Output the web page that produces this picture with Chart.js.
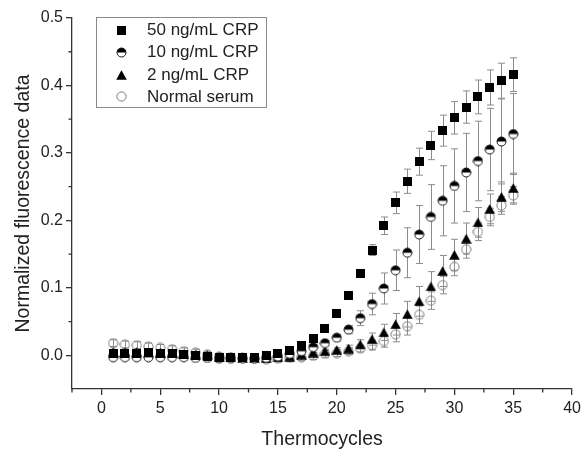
<!DOCTYPE html>
<html>
<head>
<meta charset="utf-8">
<script src="https://cdn.jsdelivr.net/npm/chart.js@4.4.1/dist/chart.umd.min.js"></script>
<style>
  html, body { margin: 0; padding: 0; background: #fff; }
  #wrap { width: 585px; height: 449px; position: relative; }
</style>
</head>
<body>
<div id="wrap"><canvas id="c" width="585" height="449"></canvas></div>
<script>
// ---------- data ----------
const cycles = [1,2,3,4,5,6,7,8,9,10,11,12,13,14,15,16,17,18,19,20,21,22,23,24,25,26,27,28,29,30,31,32,33,34,35];

const seriesLabels = ['50 ng/mL CRP', '10 ng/mL CRP', '2 ng/mL CRP', 'Normal serum'];

const crp50 = [0.003,0.003,0.003,0.004,0.003,0.002,0.001,0.000,-0.002,-0.003,-0.004,-0.004,-0.003,-0.001,0.003,0.007,0.014,0.025,0.040,0.062,0.089,0.121,0.156,0.192,0.226,0.258,0.287,0.311,0.333,0.352,0.368,0.383,0.397,0.407,0.416];
const crp50Err = [0.004,0.004,0.004,0.003,0.003,0.003,0.003,0.003,0.003,0.003,0.003,0.003,0.003,0.003,0.003,0.003,0.003,0.003,0.003,0.004,0.004,0.005,0.008,0.013,0.016,0.018,0.020,0.021,0.023,0.024,0.024,0.025,0.026,0.026,0.025];

const crp10 = [-0.003,-0.003,-0.003,-0.003,-0.003,-0.003,-0.003,-0.004,-0.004,-0.005,-0.005,-0.005,-0.005,-0.004,-0.002,0.002,0.006,0.012,0.018,0.026,0.038,0.055,0.076,0.099,0.126,0.152,0.179,0.205,0.229,0.251,0.271,0.288,0.305,0.317,0.328];
const crp10Err = [0.004,0.004,0.004,0.004,0.004,0.004,0.004,0.004,0.004,0.004,0.004,0.004,0.004,0.004,0.004,0.004,0.004,0.004,0.004,0.005,0.006,0.011,0.016,0.023,0.030,0.037,0.043,0.048,0.052,0.055,0.058,0.059,0.061,0.063,0.060];

const crp2 = [0.005,0.005,0.005,0.004,0.004,0.003,0.002,0.001,0.000,-0.002,-0.003,-0.004,-0.004,-0.004,-0.003,-0.002,0.001,0.004,0.006,0.008,0.010,0.016,0.024,0.034,0.046,0.061,0.080,0.102,0.125,0.149,0.173,0.197,0.217,0.235,0.248];
const crp2Err = [0.003,0.003,0.003,0.003,0.003,0.003,0.003,0.003,0.003,0.003,0.003,0.003,0.003,0.003,0.003,0.003,0.003,0.003,0.003,0.003,0.005,0.007,0.009,0.012,0.016,0.019,0.022,0.022,0.023,0.023,0.023,0.022,0.022,0.022,0.022];

const normalSerum = [0.018,0.016,0.015,0.013,0.011,0.009,0.006,0.004,0.001,-0.002,-0.003,-0.004,-0.005,-0.006,-0.005,-0.004,-0.003,-0.001,0.002,0.003,0.006,0.010,0.015,0.021,0.031,0.043,0.060,0.081,0.104,0.131,0.157,0.183,0.205,0.222,0.237];
const normalSerumErr = [0.005,0.005,0.005,0.005,0.005,0.005,0.005,0.005,0.005,0.005,0.005,0.005,0.005,0.005,0.005,0.005,0.005,0.005,0.005,0.005,0.005,0.005,0.007,0.009,0.011,0.013,0.013,0.013,0.013,0.013,0.013,0.013,0.013,0.013,0.013];

const xTicks = [0,5,10,15,20,25,30,35,40];
const xMinorTicks = [-2.5,2.5,7.5,12.5,17.5,22.5,27.5,32.5,37.5];
const yTicks = [0.0,0.1,0.2,0.3,0.4,0.5];
const yMinorTicks = [0.05,0.15,0.25,0.35,0.45];

// ---------- marker images ----------
function mk(w, h, draw) {
  const c = document.createElement('canvas');
  c.width = w; c.height = h;
  draw(c.getContext('2d'), w, h);
  return c;
}
const squareImg = mk(9, 9, (g) => { g.fillStyle = '#000'; g.fillRect(0, 0, 9, 9); });
const triImg = mk(11, 10, (g) => {
  g.fillStyle = '#000'; g.beginPath(); g.moveTo(5.5, 0.3); g.lineTo(10.8, 9.7); g.lineTo(0.2, 9.7); g.closePath(); g.fill();
});
const halfImg = mk(11, 11, (g) => {
  g.beginPath(); g.arc(5.5, 5.5, 4.5, 0, Math.PI * 2); g.fillStyle = '#fff'; g.fill();
  g.beginPath(); g.arc(5.5, 5.5, 4.5, Math.PI, Math.PI * 2); g.closePath(); g.fillStyle = '#000'; g.fill();
  g.beginPath(); g.arc(5.5, 5.5, 4.5, 0, Math.PI * 2); g.lineWidth = 1; g.strokeStyle = '#111'; g.stroke();
});
const openImg = mk(11, 11, (g) => {
  g.beginPath(); g.arc(5.5, 5.5, 4.6, 0, Math.PI * 2); g.lineWidth = 1; g.strokeStyle = '#7a7a7a'; g.stroke();
});

function pts(ys) { return cycles.map((c, i) => ({ x: c, y: ys[i] })); }

const datasets = [
  { label: seriesLabels[0], data: pts(crp50), errs: crp50Err, pointStyle: squareImg },
  { label: seriesLabels[1], data: pts(crp10), errs: crp10Err, pointStyle: halfImg },
  { label: seriesLabels[2], data: pts(crp2), errs: crp2Err, pointStyle: triImg },
  { label: seriesLabels[3], data: pts(normalSerum), errs: normalSerumErr, pointStyle: openImg }
].map(d => Object.assign(d, { showLine: false, pointRadius: 5, pointHoverRadius: 5 }));

// ---------- plugins ----------
const errorBars = {
  id: 'errorBars',
  beforeDatasetsDraw(chart) {
    const { ctx, scales: { x, y } } = chart;
    ctx.save();
    ctx.strokeStyle = '#8c8c8c';
    ctx.lineWidth = 1;
    for (let di = chart.data.datasets.length - 1; di >= 0; di--) {
      const ds = chart.data.datasets[di];
      ds.data.forEach((p, i) => {
        const e = ds.errs[i];
        const px = Math.round(x.getPixelForValue(p.x)) + 0.5;
        const yt = y.getPixelForValue(p.y + e);
        const yb = y.getPixelForValue(p.y - e);
        ctx.beginPath();
        ctx.moveTo(px, yt); ctx.lineTo(px, yb);
        ctx.moveTo(px - 3.5, yt); ctx.lineTo(px + 3.5, yt);
        ctx.moveTo(px - 3.5, yb); ctx.lineTo(px + 3.5, yb);
        ctx.stroke();
      });
    }
    ctx.restore();
  }
};

const minorTicks = {
  id: 'minorTicks',
  afterDraw(chart) {
    const { ctx, scales: { x, y }, chartArea } = chart;
    ctx.save();
    ctx.strokeStyle = '#333';
    ctx.lineWidth = 1.3;
    ctx.beginPath();
    xMinorTicks.forEach(v => {
      const px = x.getPixelForValue(v);
      ctx.moveTo(px, chartArea.bottom); ctx.lineTo(px, chartArea.bottom + 3.5);
    });
    yMinorTicks.forEach(v => {
      const py = y.getPixelForValue(v);
      ctx.moveTo(chartArea.left, py); ctx.lineTo(chartArea.left - 3.5, py);
    });
    ctx.stroke();
    ctx.restore();
  }
};

const boxLegend = {
  id: 'boxLegend',
  afterDraw(chart) {
    const ctx = chart.ctx;
    ctx.save();
    ctx.fillStyle = '#fff';
    ctx.fillRect(96, 17, 170, 91);
    ctx.strokeStyle = '#8a8a8a';
    ctx.lineWidth = 1;
    ctx.strokeRect(96.5, 17.5, 170, 90);
    ctx.font = "17px 'Liberation Sans', Arial, sans-serif";
    ctx.fillStyle = '#222';
    ctx.textBaseline = 'middle';
    chart.data.datasets.forEach((ds, i) => {
      const cy = 30 + i * 22.3;
      const img = ds.pointStyle;
      ctx.drawImage(img, Math.round(121 - img.width / 2), Math.round(cy - img.height / 2));
      ctx.fillText(ds.label, 147, cy + 0.5);
    });
    ctx.restore();
  }
};

// ---------- chart ----------
Chart.defaults.font.family = "'Liberation Sans', Arial, sans-serif";
Chart.defaults.color = '#222';

new Chart(document.getElementById('c'), {
  type: 'scatter',
  data: { datasets },
  plugins: [errorBars, minorTicks, boxLegend],
  options: {
    responsive: false,
    animation: false,
    events: [],
    layout: { padding: { top: 18, right: 11, bottom: 0, left: 0 } },
    plugins: { legend: { display: false }, tooltip: { enabled: false } },
    scales: {
      x: {
        type: 'linear',
        min: -2.5, max: 40,
        afterFit(s) { s.height = 60; },
        afterBuildTicks(s) { s.ticks = xTicks.map(v => ({ value: v })); },
        ticks: { font: { size: 16 }, color: '#222', padding: 4, callback: v => String(v) },
        grid: { drawOnChartArea: false, drawTicks: true, tickLength: 6, color: '#333', lineWidth: 1.3 },
        border: { display: true, color: '#333', width: 1.3 },
        title: { display: true, text: 'Thermocycles', font: { size: 19.5, lineHeight: 1 }, color: '#222', padding: { top: 0, bottom: 0 } }
      },
      y: {
        type: 'linear',
        min: -0.05, max: 0.5,
        afterFit(s) { s.width = 72; },
        afterBuildTicks(s) { s.ticks = yTicks.map(v => ({ value: v })); },
        ticks: { font: { size: 16 }, color: '#222', padding: 3, callback: v => Number(v).toFixed(1) },
        grid: { drawOnChartArea: false, drawTicks: true, tickLength: 6, color: '#333', lineWidth: 1.3 },
        border: { display: true, color: '#333', width: 1.3 },
        title: { display: true, text: 'Normalized fluorescence data', font: { size: 19.5, lineHeight: 1 }, color: '#222', padding: { top: 14, bottom: 0 } }
      }
    }
  }
});
</script>
</body>
</html>
